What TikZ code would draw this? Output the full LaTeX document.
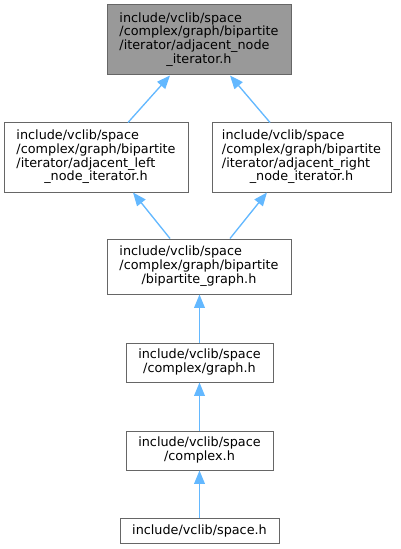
\documentclass[tikz,border=0pt]{standalone}
\usepackage{fontspec}
\setmainfont{DejaVu Sans}
\usetikzlibrary{arrows.meta}
\definecolor{edgeblue}{HTML}{63B8FF}
\definecolor{boxborder}{HTML}{666666}
\definecolor{boxgray}{HTML}{999999}
\newcommand{\lines}[2]{\begin{tabular}{@{}l@{}}#1\multicolumn{1}{@{}c@{}}{#2}\end{tabular}}
\begin{document}
\begin{tikzpicture}[x=0.75pt,y=-0.75pt,
  filebox/.style={draw=boxborder,line width=0.75pt,fill=white,inner sep=0pt,
    font=\fontsize{9.6}{10}\selectfont},
  dep/.style={draw=edgeblue,line width=1pt,-{Triangle[length=10pt,width=8pt]}}]
\useasboundingbox (0,0) rectangle (400,549);
\renewcommand{\arraystretch}{1}
\node[filebox,fill=boxgray,minimum width=138pt,minimum height=52.5pt] (top) at (199,40)
  {\lines{include/vclib/space\\/complex/graph/bipartite\\/iterator/adjacent\_node\\}{\_iterator.h}};
\node[filebox,minimum width=138pt,minimum height=51.75pt] (left) at (96,157.5)
  {\lines{include/vclib/space\\/complex/graph/bipartite\\/iterator/adjacent\_left\\}{\_node\_iterator.h}};
\node[filebox,minimum width=134.25pt,minimum height=51.75pt] (right) at (301.5,157.5)
  {\lines{include/vclib/space\\/complex/graph/bipartite\\/iterator/adjacent\_right\\}{\_node\_iterator.h}};
\node[filebox,minimum width=138pt,minimum height=41.25pt] (bip) at (199,266.5)
  {\lines{include/vclib/space\\/complex/graph/bipartite\\}{/bipartite\_graph.h}};
\node[filebox,minimum width=110.25pt,minimum height=29.25pt] (graph) at (199.5,362.5)
  {\lines{include/vclib/space\\}{/complex/graph.h}};
\node[filebox,minimum width=110.25pt,minimum height=29.25pt] (complex) at (199.5,450.5)
  {\lines{include/vclib/space\\}{/complex.h}};
\node[filebox,minimum width=119.25pt,minimum height=18.75pt] (space) at (199.5,530.5)
  {include/vclib/space.h};
\draw[dep] ([xshift=24pt]left.north) -- ([xshift=-21.75pt]top.south);
\draw[dep] ([xshift=-23.6pt]right.north) -- ([xshift=23.25pt]top.south);
\draw[dep] ([xshift=-21.75pt]bip.north) -- ([xshift=27.75pt]left.south);
\draw[dep] ([xshift=23.25pt]bip.north) -- ([xshift=-25.9pt]right.south);
\draw[dep] (graph.north) -- (graph.north |- bip.south);
\draw[dep] (complex.north) -- (graph.south);
\draw[dep] (space.north) -- (complex.south);
\end{tikzpicture}
\end{document}
